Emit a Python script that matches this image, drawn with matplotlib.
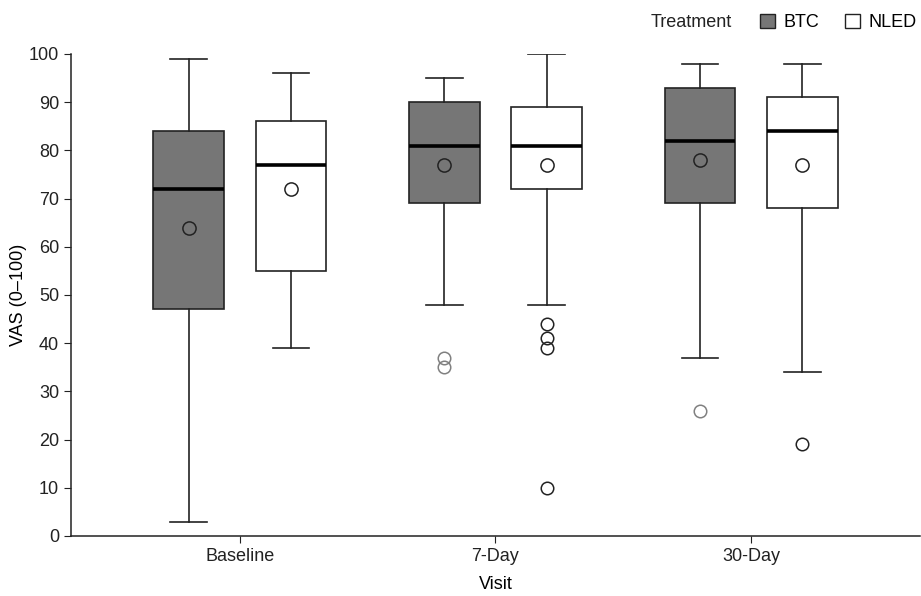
import matplotlib.pyplot as plt
from matplotlib.patches import Patch

plt.rcParams['font.family'] = ['Liberation Sans', 'DejaVu Sans']

# Données
visites = ["Baseline", "7-Day", "30-Day"]
traitements = ["BTC", "NLED"]

btc_whislo = [3, 48, 37]
btc_q1 = [47, 69, 69]
btc_med = [72, 81, 82]
btc_q3 = [84, 90, 93]
btc_whishi = [99, 95, 98]
btc_mean = [64, 77, 78]
btc_fliers = [[], [37, 35], [26]]

nled_whislo = [39, 48, 34]
nled_q1 = [55, 72, 68]
nled_med = [77, 81, 84]
nled_q3 = [86, 89, 91]
nled_whishi = [96, 100, 98]
nled_mean = [72, 77, 77]
nled_fliers = [[], [44, 41, 39, 10], [19]]

gris = "#767676"
bord = "#222222"
taille = 13

fig = plt.figure(figsize=(9.21, 5.96), dpi=100)
ax = fig.add_axes([0.077, 0.1007, 0.922, 0.8087])


def stats(lo, q1, med, q3, hi, moy, fl):
    return [dict(whislo=lo[i], q1=q1[i], med=med[i], q3=q3[i], whishi=hi[i],
                 mean=moy[i], fliers=fl[i]) for i in range(len(lo))]


decal = 0.2
largeur = 0.275
for nom, st, couleur, coul_out, dx in [
        ("BTC", stats(btc_whislo, btc_q1, btc_med, btc_q3, btc_whishi, btc_mean, btc_fliers), gris, "#808080", -decal),
        ("NLED", stats(nled_whislo, nled_q1, nled_med, nled_q3, nled_whishi, nled_mean, nled_fliers), "white", bord, decal)]:
    pos = [i + dx for i in range(len(visites))]
    ax.bxp(st, positions=pos, widths=largeur, patch_artist=True, showmeans=True,
           boxprops=dict(facecolor=couleur, edgecolor=bord, linewidth=1.2),
           medianprops=dict(color="black", linewidth=2.6),
           whiskerprops=dict(color=bord, linewidth=1.2),
           capprops=dict(color=bord, linewidth=1.2),
           capwidths=largeur * 0.52,
           flierprops=dict(marker="o", markerfacecolor="none", markeredgecolor=coul_out,
                           markersize=9, markeredgewidth=1.1),
           meanprops=dict(marker="o", markerfacecolor=couleur, markeredgecolor=bord,
                          markersize=9.5, markeredgewidth=1.1),
           manage_ticks=False)

ax.set_xlim(-0.66, 2.66)
ax.set_ylim(0, 100)
ax.set_yticks(range(0, 101, 10))
ax.set_xticks(range(len(visites)))
ax.set_xticklabels(visites)
ax.tick_params(labelsize=taille, colors="#222222", length=5)
for s in ["top", "right"]:
    ax.spines[s].set_visible(False)
for s in ["left", "bottom"]:
    ax.spines[s].set_color("#222222")
    ax.spines[s].set_linewidth(1.1)
ax.set_ylabel("VAS (0\u2013100)", fontsize=taille, va="center")
ax.yaxis.set_label_coords(-0.062, 0.5)
ax.set_xlabel("Visit", fontsize=taille, va="center")
ax.xaxis.set_label_coords(0.5, -0.1)

# Légende
fig.text(0.706, 0.962, "Treatment", fontsize=taille, va="center", ha="left", color="#222222")
poignees = [Patch(facecolor=gris, edgecolor=bord, label="BTC"),
            Patch(facecolor="white", edgecolor=bord, label="NLED")]
fig.legend(handles=poignees, ncol=2, loc="center right", bbox_to_anchor=(1.013, 0.962),
           frameon=False, fontsize=taille, handlelength=0.85, handleheight=0.85,
           handletextpad=0.45, columnspacing=1.45)

plt.savefig("out.png", dpi=100)
